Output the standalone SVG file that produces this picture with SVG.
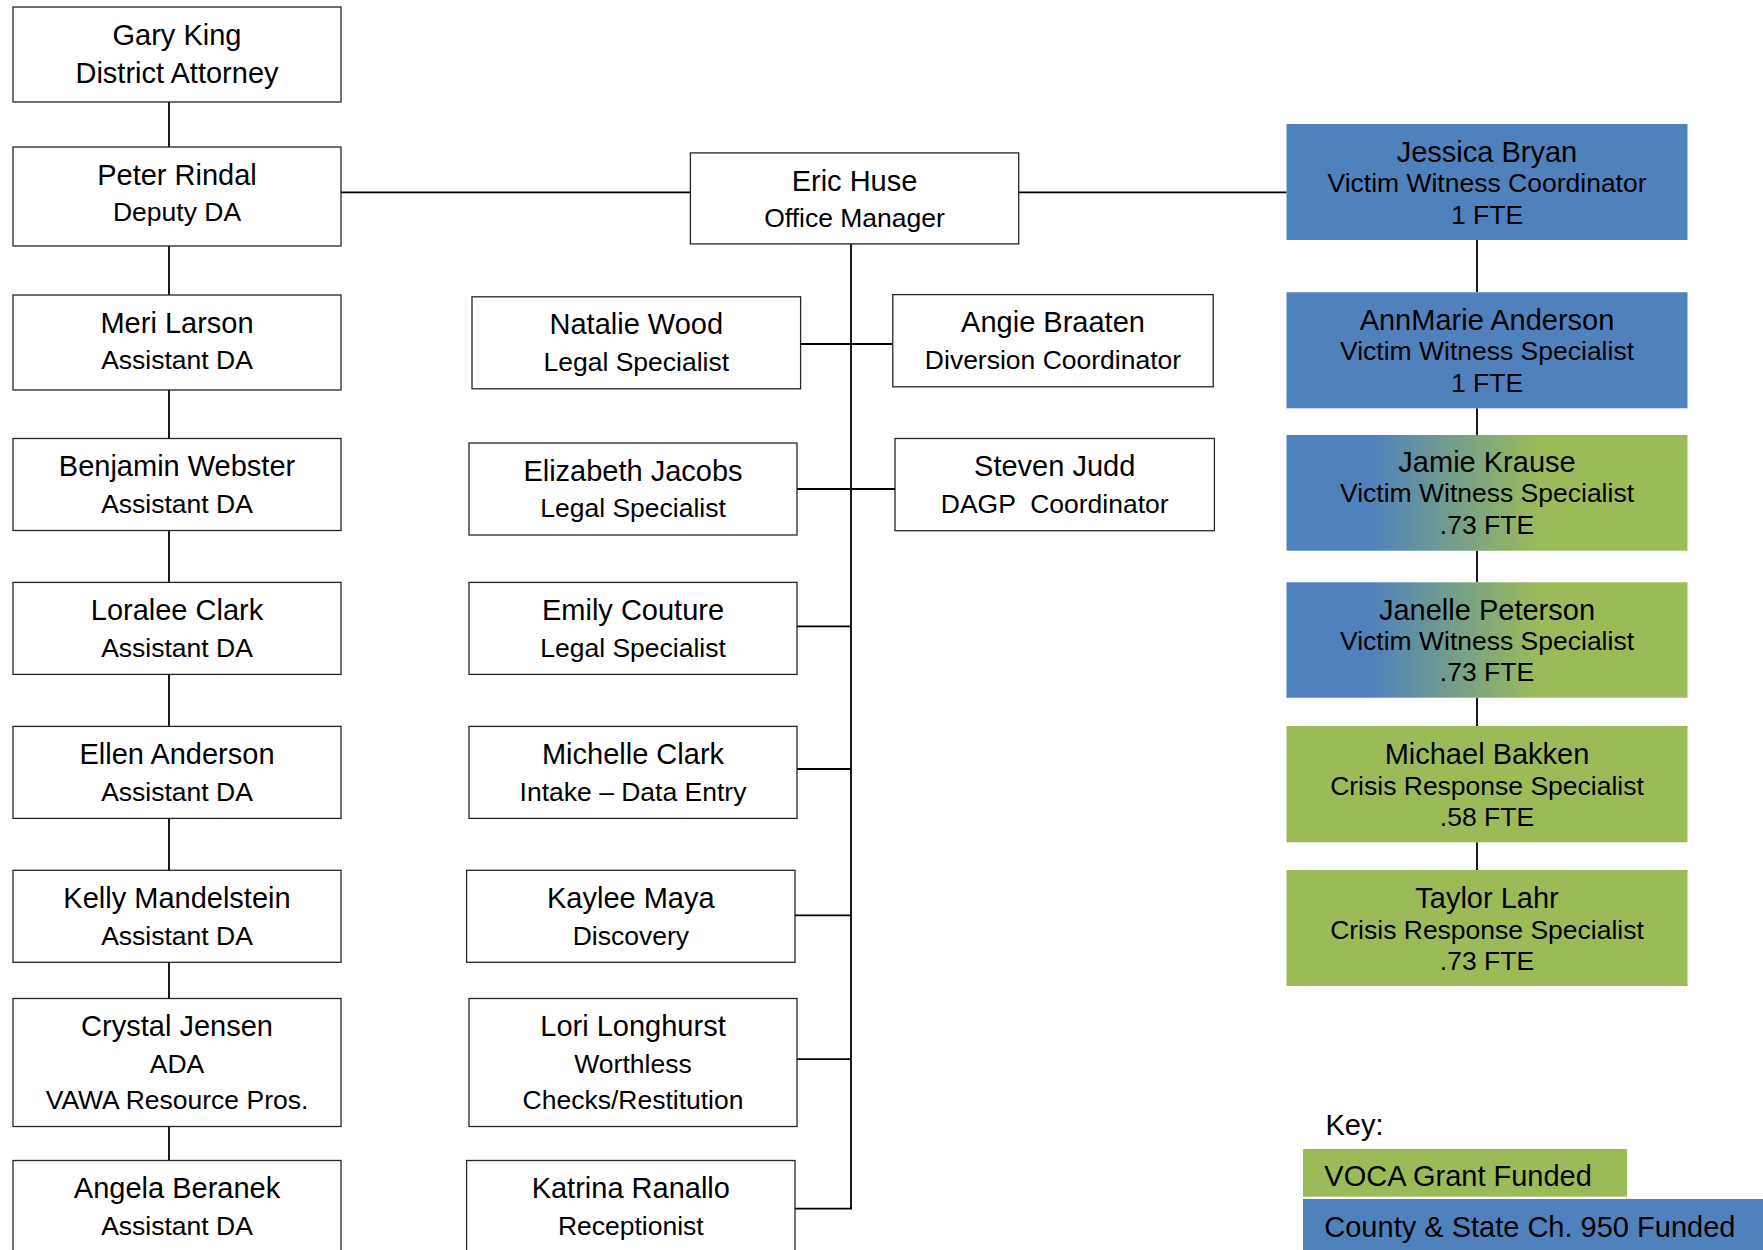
<svg xmlns="http://www.w3.org/2000/svg" width="1763" height="1250" viewBox="0 0 1763 1250">
  <style>
    .box { fill: #ffffff; stroke: #262626; stroke-width: 1.3; }
    .blue { fill: #4F81BD; }
    .green { fill: #9BBB59; }
    .mixed { fill: url(#fundMix); }
    .link { stroke: #000000; stroke-width: 1.8; fill: none; }
    text { font-family: "Liberation Sans", Arial, sans-serif; fill: #000000; text-anchor: middle; }
    .nm { font-size: 29px; }
    .tt { font-size: 26.5px; }
    .key { font-size: 29px; text-anchor: start; }
  </style>
  <defs>
    <linearGradient id="fundMix" x1="0" y1="0" x2="1" y2="0">
      <stop offset="0" stop-color="#4F81BD"/>
      <stop offset="0.21" stop-color="#4F81BD"/>
      <stop offset="0.63" stop-color="#9BBB59"/>
      <stop offset="1" stop-color="#9BBB59"/>
    </linearGradient>
  </defs>

  <rect width="1763" height="1250" fill="#ffffff"/>

  <!-- reporting lines -->
  <g id="connectors">
    <!-- attorney chain -->
    <line class="link" x1="169" y1="102" x2="169" y2="147"/>
    <line class="link" x1="169" y1="246" x2="169" y2="295"/>
    <line class="link" x1="169" y1="390" x2="169" y2="438.5"/>
    <line class="link" x1="169" y1="530.5" x2="169" y2="582.4"/>
    <line class="link" x1="169" y1="674.4" x2="169" y2="726.4"/>
    <line class="link" x1="169" y1="818.4" x2="169" y2="870.3"/>
    <line class="link" x1="169" y1="962.3" x2="169" y2="998.5"/>
    <line class="link" x1="169" y1="1126.5" x2="169" y2="1160.5"/>
    <!-- deputy to office manager to coordinator -->
    <line class="link" x1="341" y1="192.3" x2="690.4" y2="192.3"/>
    <line class="link" x1="1018.7" y1="192.3" x2="1286.5" y2="192.3"/>
    <!-- office staff trunk -->
    <line class="link" x1="851" y1="244" x2="851" y2="1208.7"/>
    <line class="link" x1="800.6" y1="344" x2="892.8" y2="344"/>
    <line class="link" x1="797" y1="489" x2="895" y2="489"/>
    <line class="link" x1="797" y1="626.3" x2="851" y2="626.3"/>
    <line class="link" x1="797" y1="769" x2="851" y2="769"/>
    <line class="link" x1="795" y1="915.3" x2="851" y2="915.3"/>
    <line class="link" x1="797" y1="1059.2" x2="851" y2="1059.2"/>
    <line class="link" x1="795" y1="1208.7" x2="852" y2="1208.7"/>
    <!-- victim witness chain -->
    <line class="link" x1="1477" y1="240" x2="1477" y2="292.3"/>
    <line class="link" x1="1477" y1="408.3" x2="1477" y2="435"/>
    <line class="link" x1="1477" y1="550.7" x2="1477" y2="582.3"/>
    <line class="link" x1="1477" y1="697.7" x2="1477" y2="726"/>
    <line class="link" x1="1477" y1="842.3" x2="1477" y2="870"/>
  </g>

  <!-- attorneys -->
  <g id="gary-king">
    <rect class="box" x="13" y="7" width="328" height="95"/>
    <text class="nm" x="177" y="45">Gary King</text>
    <text class="nm" x="177" y="82.5">District Attorney</text>
  </g>
  <g id="peter-rindal">
    <rect class="box" x="13" y="147" width="328" height="99"/>
    <text class="nm" x="177" y="185">Peter Rindal</text>
    <text class="tt" x="177" y="220.5">Deputy DA</text>
  </g>
  <g id="meri-larson">
    <rect class="box" x="13" y="295" width="328" height="95"/>
    <text class="nm" x="177" y="332.5">Meri Larson</text>
    <text class="tt" x="177" y="369">Assistant DA</text>
  </g>
  <g id="benjamin-webster">
    <rect class="box" x="13" y="438.5" width="328" height="92"/>
    <text class="nm" x="177" y="476">Benjamin Webster</text>
    <text class="tt" x="177" y="512.5">Assistant DA</text>
  </g>
  <g id="loralee-clark">
    <rect class="box" x="13" y="582.4" width="328" height="92"/>
    <text class="nm" x="177" y="620">Loralee Clark</text>
    <text class="tt" x="177" y="656.5">Assistant DA</text>
  </g>
  <g id="ellen-anderson">
    <rect class="box" x="13" y="726.4" width="328" height="92"/>
    <text class="nm" x="177" y="764">Ellen Anderson</text>
    <text class="tt" x="177" y="800.5">Assistant DA</text>
  </g>
  <g id="kelly-mandelstein">
    <rect class="box" x="13" y="870.3" width="328" height="92"/>
    <text class="nm" x="177" y="908">Kelly Mandelstein</text>
    <text class="tt" x="177" y="944.5">Assistant DA</text>
  </g>
  <g id="crystal-jensen">
    <rect class="box" x="13" y="998.5" width="328" height="128"/>
    <text class="nm" x="177" y="1035.5">Crystal Jensen</text>
    <text class="tt" x="177" y="1073">ADA</text>
    <text class="tt" x="177" y="1108.5">VAWA Resource Pros.</text>
  </g>
  <g id="angela-beranek">
    <rect class="box" x="13" y="1160.5" width="328" height="100"/>
    <text class="nm" x="177" y="1198">Angela Beranek</text>
    <text class="tt" x="177" y="1235">Assistant DA</text>
  </g>

  <!-- office staff -->
  <g id="eric-huse">
    <rect class="box" x="690.4" y="152.9" width="328.3" height="91"/>
    <text class="nm" x="854.5" y="190.5">Eric Huse</text>
    <text class="tt" x="854.5" y="227">Office Manager</text>
  </g>
  <g id="natalie-wood">
    <rect class="box" x="472" y="296.8" width="328.6" height="92"/>
    <text class="nm" x="636.3" y="334">Natalie Wood</text>
    <text class="tt" x="636.3" y="370.5">Legal Specialist</text>
  </g>
  <g id="elizabeth-jacobs">
    <rect class="box" x="469" y="443" width="328" height="92"/>
    <text class="nm" x="633" y="480.5">Elizabeth Jacobs</text>
    <text class="tt" x="633" y="517">Legal Specialist</text>
  </g>
  <g id="emily-couture">
    <rect class="box" x="469" y="582.4" width="328" height="92"/>
    <text class="nm" x="633" y="620">Emily Couture</text>
    <text class="tt" x="633" y="656.5">Legal Specialist</text>
  </g>
  <g id="michelle-clark">
    <rect class="box" x="469" y="726.4" width="328" height="92"/>
    <text class="nm" x="633" y="764">Michelle Clark</text>
    <text class="tt" x="633" y="800.5">Intake – Data Entry</text>
  </g>
  <g id="kaylee-maya">
    <rect class="box" x="466.6" y="870.3" width="328.4" height="92"/>
    <text class="nm" x="630.8" y="908">Kaylee Maya</text>
    <text class="tt" x="630.8" y="944.5">Discovery</text>
  </g>
  <g id="lori-longhurst">
    <rect class="box" x="469" y="998.5" width="328" height="128"/>
    <text class="nm" x="633" y="1035.5">Lori Longhurst</text>
    <text class="tt" x="633" y="1073">Worthless</text>
    <text class="tt" x="633" y="1108.5">Checks/Restitution</text>
  </g>
  <g id="katrina-ranallo">
    <rect class="box" x="466.6" y="1160.5" width="328.4" height="100"/>
    <text class="nm" x="630.8" y="1198">Katrina Ranallo</text>
    <text class="tt" x="630.8" y="1235">Receptionist</text>
  </g>
  <g id="angie-braaten">
    <rect class="box" x="892.8" y="294.6" width="320.4" height="92.2"/>
    <text class="nm" x="1053" y="332">Angie Braaten</text>
    <text class="tt" x="1053" y="368.5">Diversion Coordinator</text>
  </g>
  <g id="steven-judd">
    <rect class="box" x="895" y="438.5" width="319.4" height="92.2"/>
    <text class="nm" x="1054.7" y="476">Steven Judd</text>
    <text class="tt" x="1054.7" y="512.5" xml:space="preserve">DAGP  Coordinator</text>
  </g>

  <!-- victim witness unit -->
  <g id="jessica-bryan">
    <rect class="blue" x="1286.5" y="124" width="401" height="116"/>
    <text class="nm" x="1487" y="161.5">Jessica Bryan</text>
    <text class="tt" x="1487" y="192">Victim Witness Coordinator</text>
    <text class="tt" x="1487" y="223.5">1 FTE</text>
  </g>
  <g id="annmarie-anderson">
    <rect class="blue" x="1286.5" y="292.3" width="401" height="116"/>
    <text class="nm" x="1487" y="329.8">AnnMarie Anderson</text>
    <text class="tt" x="1487" y="360.3">Victim Witness Specialist</text>
    <text class="tt" x="1487" y="391.8">1 FTE</text>
  </g>
  <g id="jamie-krause">
    <rect class="mixed" x="1286.5" y="435" width="401" height="115.7"/>
    <text class="nm" x="1487" y="472">Jamie Krause</text>
    <text class="tt" x="1487" y="502">Victim Witness Specialist</text>
    <text class="tt" x="1487" y="533.5">.73 FTE</text>
  </g>
  <g id="janelle-peterson">
    <rect class="mixed" x="1286.5" y="582.3" width="401" height="115.4"/>
    <text class="nm" x="1487" y="619.5">Janelle Peterson</text>
    <text class="tt" x="1487" y="649.5">Victim Witness Specialist</text>
    <text class="tt" x="1487" y="681">.73 FTE</text>
  </g>
  <g id="michael-bakken">
    <rect class="green" x="1286.5" y="726" width="401" height="116.3"/>
    <text class="nm" x="1487" y="763.5">Michael Bakken</text>
    <text class="tt" x="1487" y="795">Crisis Response Specialist</text>
    <text class="tt" x="1487" y="826">.58 FTE</text>
  </g>
  <g id="taylor-lahr">
    <rect class="green" x="1286.5" y="870" width="401" height="116"/>
    <text class="nm" x="1487" y="907.5">Taylor Lahr</text>
    <text class="tt" x="1487" y="939">Crisis Response Specialist</text>
    <text class="tt" x="1487" y="970">.73 FTE</text>
  </g>

  <!-- funding key -->
  <g id="legend">
    <text class="key" x="1325.5" y="1135">Key:</text>
    <rect class="green" x="1303" y="1149" width="324" height="47.7"/>
    <text class="key" x="1324.3" y="1186">VOCA Grant Funded</text>
    <rect class="blue" x="1303" y="1199" width="470" height="60"/>
    <text class="key" x="1324.3" y="1236.5">County &amp; State Ch. 950 Funded</text>
  </g>
</svg>
